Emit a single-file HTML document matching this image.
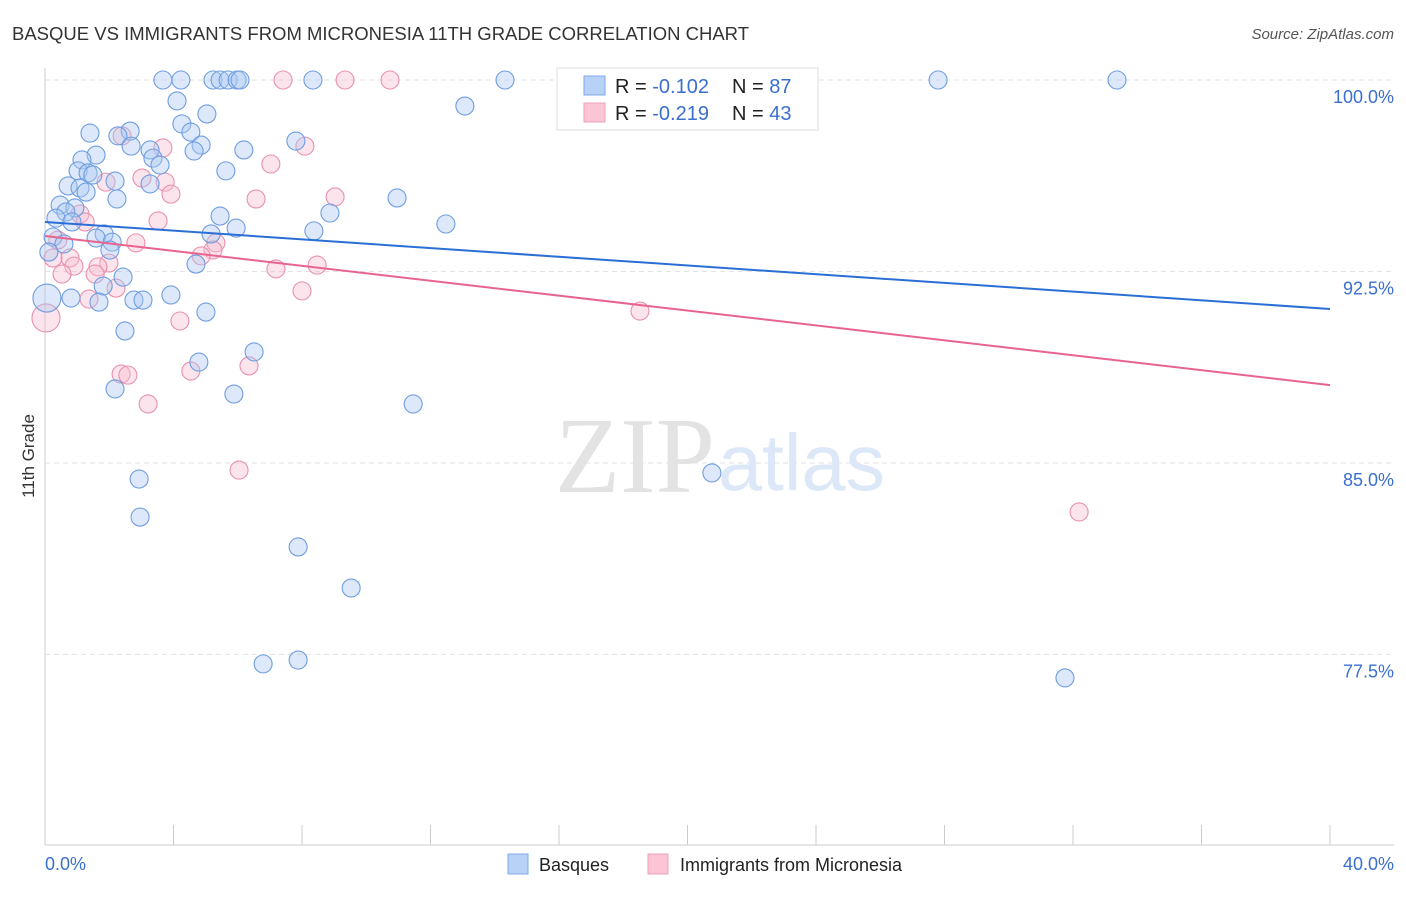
<!DOCTYPE html>
<html><head><meta charset="utf-8"><style>
body{margin:0;background:#fff;font-family:"Liberation Sans",sans-serif;}
</style></head><body>
<svg id="chart" width="1406" height="892" xmlns="http://www.w3.org/2000/svg" style="font-family:'Liberation Sans',sans-serif">
<text x="12" y="40" font-size="18.5" fill="#333">BASQUE VS IMMIGRANTS FROM MICRONESIA 11TH GRADE CORRELATION CHART</text>
<text x="1394" y="39" font-size="15" fill="#555" font-style="italic" text-anchor="end">Source: ZipAtlas.com</text>
<text x="34" y="456" font-size="17" fill="#333" text-anchor="middle" transform="rotate(-90 34 456)">11th Grade</text>
<g id="grid"></g>
<text x="555" y="492" font-size="108" fill="#e3e3e3" font-family="Liberation Serif" textLength="160" lengthAdjust="spacingAndGlyphs">ZIP</text>
<text x="718" y="490" font-size="80" fill="#dce8f7" textLength="167" lengthAdjust="spacingAndGlyphs">atlas</text>
<g id="pts"></g>
<g id="lines"></g>
<g>
<rect x="557" y="68" width="261" height="62" fill="#fff" stroke="#ddd"/>
<rect x="584" y="76" width="21" height="19" fill="#b8d2f7" stroke="#7fa8e8"/>
<rect x="584" y="103" width="21" height="19" fill="#fcc5d5" stroke="#eca2b8"/>
<text x="615" y="93" font-size="20" fill="#222">R = <tspan fill="#3a6fd0">-0.102</tspan></text>
<text x="732" y="93" font-size="20" fill="#222">N = <tspan fill="#3a6fd0">87</tspan></text>
<text x="615" y="120" font-size="20" fill="#222">R = <tspan fill="#3a6fd0">-0.219</tspan></text>
<text x="732" y="120" font-size="20" fill="#222">N = <tspan fill="#3a6fd0">43</tspan></text>
</g>
<text x="45" y="870" font-size="18" fill="#3a6fd0">0.0%</text>
<text x="1394" y="870" font-size="18" fill="#3a6fd0" text-anchor="end">40.0%</text>
<g>
<rect x="508" y="854" width="20" height="20" fill="#b8d2f7" stroke="#7fa8e8"/>
<text x="539" y="871" font-size="18" fill="#222">Basques</text>
<rect x="648" y="854" width="20" height="20" fill="#fcc5d5" stroke="#eca2b8"/>
<text x="680" y="871" font-size="18" fill="#222">Immigrants from Micronesia</text>
</g>
</svg>
<script>
const yTicks=[100,92.5,85,77.5];
const yTickLabels=["100.0%","92.5%","85.0%","77.5%"];
const xTicks=[0,4,8,12,16,20,24,28,32,36,40];
const blueX=[3.67,4.23,5.23,5.45,5.70,5.98,6.07,8.34,14.32,27.80,33.37,23.13,4.11,13.07,5.04,4.26,1.40,2.65,4.54,2.27,7.81,2.68,4.86,4.64,3.27,6.19,1.59,3.36,1.15,3.58,1.03,1.34,5.63,1.49,2.18,3.27,0.72,1.09,1.28,2.24,10.96,0.47,0.93,0.65,0.34,5.45,8.87,0.84,12.48,8.37,5.95,0.25,1.84,5.17,1.59,0.59,2.09,2.02,0.12,4.70,2.43,1.81,0.06,0.81,1.68,2.77,3.05,3.92,5.01,2.49,4.79,6.51,2.18,5.88,11.46,20.76,2.93,2.96,7.88,9.53,6.79,7.88,31.75];
const blueY=[100,100,100,100,100,100,100,100,100,100,100,100,99.18,98.98,98.67,98.28,97.92,98.0,97.96,97.81,97.61,97.41,97.45,97.22,97.26,97.26,97.06,96.94,96.87,96.67,96.44,96.36,96.44,96.28,96.04,95.93,95.85,95.77,95.61,95.34,95.38,95.10,94.99,94.83,94.59,94.67,94.79,94.44,94.36,94.09,94.20,93.85,93.97,93.97,93.81,93.58,93.65,93.34,93.26,92.79,92.28,91.93,91.46,91.46,91.30,91.38,91.38,91.58,90.91,90.17,88.95,89.35,87.90,87.70,87.31,84.61,84.37,82.88,81.71,80.10,77.13,77.28,76.58];
const pinkX=[7.41,9.34,10.74,2.40,8.09,3.67,7.03,3.02,3.74,1.90,3.92,6.57,9.03,1.09,1.25,3.52,0.40,2.83,5.32,5.23,4.86,0.25,0.78,0.90,1.99,1.65,8.47,7.19,0.53,1.56,2.21,8.00,1.37,18.52,0.03,4.20,6.35,4.54,2.37,2.58,3.21,6.04,32.19];
const pinkY=[100,100,100,97.81,97.41,97.34,96.71,96.16,96.0,96.0,95.53,95.34,95.42,94.75,94.44,94.48,93.73,93.62,93.62,93.34,93.11,93.03,93.03,92.71,92.83,92.68,92.75,92.60,92.40,92.40,91.85,91.74,91.42,90.95,90.68,90.56,88.80,88.60,88.48,88.44,87.31,84.72,83.08];
const blueTrend=[94.44,91.03];
const pinkTrend=[93.89,88.05];
const NS='http://www.w3.org/2000/svg';
const X=v=>45+v/40*1285;
const Y=v=>80+(100-v)*25.53;
function mk(tag,attrs,parent){const e=document.createElementNS(NS,tag);for(const k in attrs)e.setAttribute(k,attrs[k]);parent.appendChild(e);return e;}
const grid=document.getElementById('grid');
mk('line',{x1:45,y1:68,x2:45,y2:845,stroke:'#ccc'},grid);
mk('line',{x1:45,y1:845,x2:1394,y2:845,stroke:'#ccc'},grid);
yTicks.forEach((t,i)=>{
  const l=mk('line',{x1:45,y1:Y(t),x2:1394,y2:Y(t),stroke:'#e2e2e2','stroke-dasharray':'5,4'},grid);
  
  
  const tx=mk('text',{x:1394,y:Y(t)+23,'font-size':18,fill:'#3a6fd0','text-anchor':'end'},grid);
  tx.textContent=yTickLabels[i];
  
  
});
xTicks.forEach(t=>{
  const l=mk('line',{x1:X(t),y1:825,x2:X(t),y2:845,stroke:'#ccc'},grid);
  
  
});
const pts=document.getElementById('pts');
function dots(xs,ys,fill,stroke,name){
  xs.forEach((x,i)=>{
    const r=(x<0.1)?14:9;
    const c=mk('circle',{cx:X(x),cy:Y(ys[i]),r:r,fill:fill,'fill-opacity':0.4,stroke:stroke,'stroke-width':1.1},pts);
    
    
  });
}
dots(pinkX,pinkY,'#f8bcd0','#e891ad','micronesia-point');
dots(blueX,blueY,'#a9c8f3','#6f9de0','basques-point');
const lines=document.getElementById('lines');
const bl=mk('line',{x1:X(0),y1:Y(blueTrend[0]),x2:X(40),y2:Y(blueTrend[1]),stroke:'#2b6fd6','stroke-width':2},lines);


const pl=mk('line',{x1:X(0),y1:Y(pinkTrend[0]),x2:X(40),y2:Y(pinkTrend[1]),stroke:'#e8648f','stroke-width':2},lines);


</script>
</body></html>
